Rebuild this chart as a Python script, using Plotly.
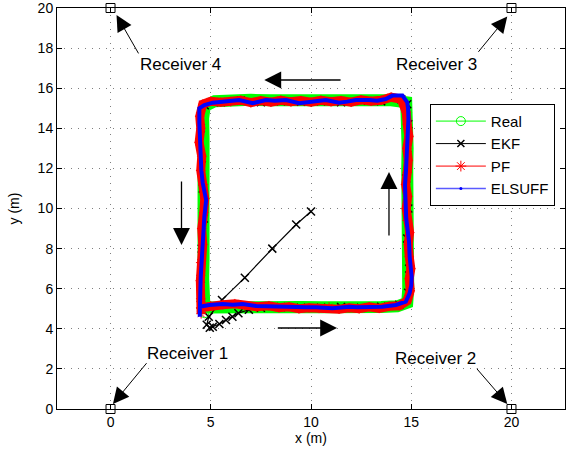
import plotly.graph_objects as go

# Receivers (m)
rx = [0, 20, 20, 0]
ry = [0, 0, 20, 20]
receiver_names = ["Receiver 1", "Receiver 2", "Receiver 3", "Receiver 4"]

# Real trajectory
real_x = [4.7, 5.5, 6.5, 7.5, 8.5, 9.5, 10.5, 11.5, 12.5, 13.5, 14.3, 14.8, 14.85, 14.82, 14.8, 14.82, 14.84, 14.82, 14.8, 14.82,
          14.84, 14.82, 14.75, 14.0, 13.0, 12.0, 11.0, 10.0, 9.0, 8.0, 7.0, 6.0, 5.2, 4.7, 4.62, 4.64, 4.66, 4.68, 4.7, 4.68,
          4.66, 4.64, 4.62, 4.64, 4.7]
real_y = [5.06, 5.09, 5.07, 5.04, 5.07, 5.09, 5.07, 5.04, 5.07, 5.09, 5.12, 5.3, 6.0, 7.0, 8.0, 9.0, 10.0, 11.0, 12.0, 13.0,
          14.0, 14.8, 15.3, 15.4, 15.38, 15.4, 15.42, 15.4, 15.38, 15.4, 15.42, 15.4, 15.35, 15.1, 14.5, 13.5, 12.5, 11.5, 10.5, 9.5,
          8.5, 7.5, 6.5, 5.4, 4.75]

# EKF estimate
ekf_x = [10.0, 9.26, 8.07, 6.7, 5.56, 4.9, 4.8, 4.95, 5.1, 5.43, 5.76, 6.08, 6.38, 6.9, 7.5, 8.5, 9.5, 10.5, 11.5, 12.5,
         13.5, 14.4, 14.85, 14.9, 14.8, 14.85, 14.75, 14.8, 14.85, 14.8, 14.5, 13.5, 12.5, 11.5, 10.5, 9.5, 8.5, 7.5, 6.5, 5.5,
         4.7, 4.5, 4.55, 4.6, 4.65, 4.55, 4.5, 4.5]
ekf_y = [9.85, 9.2, 8.0, 6.55, 5.44, 4.6, 4.2, 4.05, 4.1, 4.24, 4.44, 4.6, 4.78, 4.95, 5.05, 5.08, 5.05, 5.05, 5.08, 5.05,
         5.1, 5.2, 5.8, 7.0, 8.5, 10.0, 11.5, 13.0, 14.2, 15.2, 15.45, 15.35, 15.38, 15.3, 15.35, 15.33, 15.35, 15.3, 15.38, 15.3,
         15.15, 14.0, 12.5, 11.0, 9.5, 8.0, 6.5, 5.2]

# PF estimate
pf_x = [4.5, 5.0, 5.6, 6.2, 6.7, 7.3, 7.9, 8.4, 8.9, 9.4, 9.9, 10.4, 10.9, 11.4, 11.9, 12.4, 12.9, 13.4, 13.9, 14.4,
        14.8, 14.95, 14.9, 14.98, 14.9, 14.85, 14.92, 14.8, 14.75, 14.82, 14.72, 14.8, 14.85, 14.78, 14.88, 14.8, 14.75, 14.5, 14.0, 13.5,
        13.0, 12.5, 12.0, 11.5, 11.0, 10.5, 10.0, 9.5, 9.0, 8.5, 8.0, 7.5, 7.0, 6.5, 6.0, 5.5, 5.0, 4.6, 4.45, 4.5,
        4.42, 4.55, 4.5, 4.62, 4.7, 4.65, 4.55, 4.6, 4.5, 4.48, 4.5, 4.52]
pf_y = [5.05, 5.15, 5.2, 5.25, 5.15, 5.1, 5.15, 5.05, 5.1, 5.0, 5.05, 5.02, 5.08, 4.98, 5.05, 5.0, 5.1, 5.02, 5.12, 5.15,
        5.4, 5.9, 6.5, 7.0, 7.6, 8.2, 8.8, 9.4, 10.0, 10.6, 11.2, 11.8, 12.4, 13.0, 13.6, 14.2, 14.8, 15.45, 15.55, 15.4,
        15.35, 15.42, 15.3, 15.38, 15.33, 15.4, 15.3, 15.38, 15.32, 15.4, 15.3, 15.38, 15.28, 15.4, 15.33, 15.3, 15.35, 15.2, 14.6, 14.0,
        13.3, 12.6, 11.9, 11.2, 10.5, 9.8, 9.0, 8.2, 7.3, 6.4, 5.5, 4.75]

# ELSUFF estimate
els_x = [4.45, 4.93, 5.59, 6.1, 6.59, 7.26, 7.8, 8.25, 8.75, 9.25, 9.75, 10.24, 10.65, 11.07, 11.5, 11.9, 12.3, 12.73, 13.15, 13.56,
         14.23, 14.73, 14.92, 15.0, 15.02, 14.96, 14.92, 14.89, 14.82, 14.75, 14.72, 14.69, 14.74, 14.8, 14.83, 14.86, 14.84, 14.8, 14.56, 14.06,
         13.73, 13.3, 12.9, 12.24, 11.8, 11.4, 10.74, 10.07, 9.41, 8.75, 8.2, 7.75, 7.09, 6.42, 5.59, 5.1, 4.68, 4.43, 4.43, 4.45,
         4.48, 4.53, 4.6, 4.77, 4.68, 4.6, 4.55, 4.5, 4.48, 4.43, 4.45]
els_y = [5.1, 5.19, 5.24, 5.2, 5.24, 5.14, 5.12, 5.1, 5.09, 5.07, 5.08, 5.07, 5.04, 5.02, 5.06, 5.1, 5.08, 5.07, 5.09, 5.1,
         5.19, 5.35, 5.78, 6.18, 6.6, 7.03, 7.6, 8.34, 8.9, 9.51, 10.3, 11.17, 11.9, 12.83, 13.6, 14.5, 15.0, 15.3, 15.63, 15.63,
         15.46, 15.38, 15.41, 15.41, 15.33, 15.28, 15.41, 15.33, 15.25, 15.41, 15.38, 15.41, 15.25, 15.41, 15.33, 15.28, 15.16, 15.0, 14.26, 13.4,
         12.58, 11.9, 11.27, 10.42, 9.59, 8.43, 7.28, 6.6, 5.93, 5.1, 4.6]

# Motion direction arrows: (tail_x, tail_y, head_x, head_y)
dir_tail_x = [11.55, 13.89, 3.54, 8.27]
dir_tail_y = [16.41, 8.58, 11.42, 4.04]
dir_head_x = [7.67, 13.89, 3.54, 11.3]
dir_head_y = [16.41, 11.82, 8.18, 4.04]

# Receiver label positions and arrow tails
lab_x = [3.86, 16.19, 16.28, 3.51]
lab_y = [2.78, 2.53, 17.16, 17.16]
lab_tail_x = [1.86, 18.21, 18.29, 1.44]
lab_tail_y = [2.36, 2.08, 17.74, 17.66]
lab_head_x = [0.12, 19.79, 19.79, 0.3]
lab_head_y = [0.25, 0.25, 19.57, 19.65]

FONT = "Liberation Sans, Arial, sans-serif"
GREEN = "#00ff00"
RED = "#ff0000"
BLUE = "#0000ff"

fig = go.Figure()

# data traces (thick bands)
fig.add_trace(go.Scatter(x=real_x, y=real_y, mode="lines+markers", showlegend=False,
                         line=dict(color=GREEN, width=12),
                         marker=dict(symbol="circle-open", size=8, color=GREEN, line=dict(width=1))))
fig.add_trace(go.Scatter(x=ekf_x, y=ekf_y, mode="lines+markers", showlegend=False,
                         line=dict(color="black", width=1.2),
                         marker=dict(symbol="x-thin-open", size=8, color="black", line=dict(width=1.5, color="black"))))
fig.add_trace(go.Scatter(x=pf_x, y=pf_y, mode="lines+markers", showlegend=False,
                         line=dict(color=RED, width=9),
                         marker=dict(symbol="asterisk-open", size=8, color=RED, line=dict(width=1, color=RED))))
fig.add_trace(go.Scatter(x=els_x, y=els_y, mode="lines", showlegend=False,
                         line=dict(color=BLUE, width=4)))

# legend entries
fig.add_trace(go.Scatter(x=[None], y=[None], mode="lines+markers", name="Real",
                         line=dict(color=GREEN, width=1),
                         marker=dict(symbol="circle-open", size=9, color=GREEN, line=dict(width=1))))
fig.add_trace(go.Scatter(x=[None], y=[None], mode="lines+markers", name="EKF",
                         line=dict(color="black", width=1),
                         marker=dict(symbol="x-thin-open", size=7, color="black", line=dict(width=1.5, color="black"))))
fig.add_trace(go.Scatter(x=[None], y=[None], mode="lines+markers", name="PF",
                         line=dict(color=RED, width=1),
                         marker=dict(symbol="asterisk-open", size=9, color=RED, line=dict(width=1, color=RED))))
fig.add_trace(go.Scatter(x=[None], y=[None], mode="lines+markers", name="ELSUFF",
                         line=dict(color="#5a5aff", width=1.5),
                         marker=dict(symbol="circle", size=3, color=BLUE)))

# receivers
fig.add_trace(go.Scatter(x=rx, y=ry, mode="markers", showlegend=False, cliponaxis=False,
                         marker=dict(symbol="square-open", size=9, color="black", line=dict(width=1))))

annotations = []
for i in range(len(dir_tail_x)):
    annotations.append(dict(x=dir_head_x[i], y=dir_head_y[i], ax=dir_tail_x[i], ay=dir_tail_y[i],
                            xref="x", yref="y", axref="x", ayref="y", text="", showarrow=True,
                            arrowhead=2, arrowsize=2.6, arrowwidth=1.3, arrowcolor="black", standoff=0))
for i in range(len(receiver_names)):
    annotations.append(dict(x=lab_head_x[i], y=lab_head_y[i], ax=lab_tail_x[i], ay=lab_tail_y[i],
                            xref="x", yref="y", axref="x", ayref="y", text="", showarrow=True,
                            arrowhead=2, arrowsize=3.2, arrowwidth=1.0, arrowcolor="black", standoff=0))
    annotations.append(dict(x=lab_x[i], y=lab_y[i], xref="x", yref="y", text=receiver_names[i],
                            showarrow=False, font=dict(family=FONT, size=17, color="black")))

axis_common = dict(showline=True, linecolor="black", linewidth=1, mirror="ticks", ticks="inside",
                   ticklen=5, tickcolor="black", showgrid=True, gridcolor="rgba(0,0,0,0.5)",
                   griddash="1px,6px", gridwidth=1, zeroline=False, automargin=False,
                   ticklabeloverflow="allow",
                   tickfont=dict(family=FONT, size=14, color="black"))

fig.update_layout(
    width=576, height=454,
    margin=dict(l=57, r=11, t=8, b=45),
    paper_bgcolor="white", plot_bgcolor="white",
    font=dict(family=FONT, size=14, color="black"),
    xaxis=dict(range=[-2.67, 22.67], tickvals=[0, 5, 10, 15, 20],
               title=dict(text="x (m)", standoff=2, font=dict(family=FONT, size=14)), **axis_common),
    yaxis=dict(range=[0, 20], tickvals=[0, 2, 4, 6, 8, 10, 12, 14, 16, 18, 20],
               title=dict(text="y (m)", standoff=14, font=dict(family=FONT, size=14)), **axis_common),
    legend=dict(x=0.734, y=0.761, xanchor="left", yanchor="top", bgcolor="white",
                bordercolor="black", borderwidth=1, font=dict(family=FONT, size=15),
                itemwidth=50, tracegroupgap=0),
    annotations=annotations,
)

fig.write_html("out.html", config={"displayModeBar": False},
               post_script="document.body.style.margin='0';")
